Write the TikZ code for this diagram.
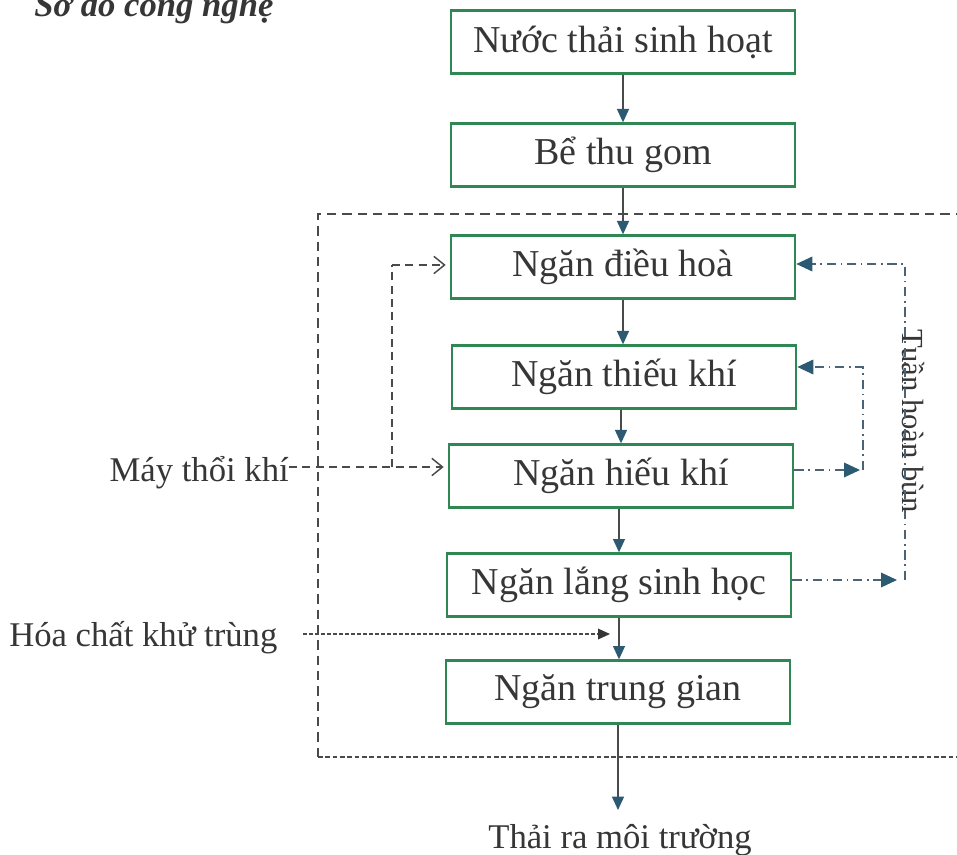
\documentclass[tikz,border=0pt]{standalone}
\usepackage{fontspec}
\setmainfont{Liberation Serif}
\usetikzlibrary{arrows.meta}

\definecolor{boxgreen}{HTML}{2F8754}
\definecolor{inkgray}{HTML}{363636}
\definecolor{linegray}{HTML}{4A4A4A}
\definecolor{arrowblue}{HTML}{2C5A72}
\definecolor{recblue}{HTML}{4A6476}

\begin{document}
\begin{tikzpicture}[x=0.75pt,y=-0.75pt,
  stagebox/.style={draw=boxgreen,line width=2pt,minimum width=258pt,minimum height=47pt,
    inner sep=0pt,text=inkgray,font=\fontsize{28.5}{32}\selectfont},
  sidelabel/.style={text=inkgray,inner sep=0pt,font=\fontsize{26}{30}\selectfont},
  flow/.style={draw=linegray,line width=1pt,-{Triangle[length=10pt,width=9pt,color=arrowblue]}},
  frametop/.style={draw=linegray,line width=1.1pt,dash pattern=on 7pt off 4.5pt},
  framebottom/.style={draw=linegray,line width=1.1pt,dash pattern=on 3.5pt off 2pt},
  airline/.style={draw=linegray,line width=1pt,dash pattern=on 6pt off 4pt,
    -{Straight Barb[length=8pt,width=13pt,line width=1.1pt]}},
  airbranch/.style={draw=linegray,line width=1pt,dash pattern=on 6pt off 4pt},
  chemline/.style={draw=linegray,line width=1pt,dash pattern=on 3pt off 1.5pt,
    -{Triangle[length=9pt,width=8pt,color=inkgray]}},
  recyc/.style={draw=recblue,line width=1pt,dash pattern=on 7pt off 3.5pt on 1.2pt off 3.5pt},
  recyctip/.style={recyc,-{Triangle[length=12pt,width=11pt,color=arrowblue]}}
]
\useasboundingbox (0,0) rectangle (957,855);
\clip (0,0) rectangle (957,855);

% title, partly above the page edge
\node[anchor=base west,inner sep=0pt,text=inkgray,
  font=\fontsize{26}{30}\selectfont\bfseries\itshape] (title) at (34,17) {Sơ đồ công nghệ};

% treatment stages
\node[stagebox] (b1) at (623,42)  {Nước thải sinh hoạt};
\node[stagebox] (b2) at (623,155) {Bể thu gom};
\node[stagebox] (b3) at (623,267) {Ngăn điều hoà};
\node[stagebox] (b4) at (624,377) {Ngăn thiếu khí};
\node[stagebox] (b5) at (621,476) {Ngăn hiếu khí};
\node[stagebox] (b6) at (619,585) {Ngăn lắng sinh học};
\node[stagebox] (b7) at (618,692) {Ngăn trung gian};

% side inputs and outlet
\node[sidelabel,anchor=base east] (air) at (289,482) {Máy thổi khí};
\node[sidelabel,anchor=base west] (chem) at (9,646) {Hóa chất khử trùng};
\node[sidelabel,anchor=base] (out) at (620,848) {Thải ra môi trường};
\node[sidelabel,rotate=-90,anchor=base,font=\fontsize{23}{26}\selectfont] (sludge) at (902,421) {Tuần hoàn bùn};

% dashed boundary of the treatment unit
\coordinate (fr1) at (965,214);
\coordinate (fr2) at (318,214);
\coordinate (fr3) at (318,757);
\coordinate (fr4) at (965,757);
\draw[frametop] (fr1) -- (fr2) -- (fr3);
\draw[framebottom] (fr3) -- (fr4);

% main flow
\draw[flow] (b1.south) -- (b2.north);
\draw[flow] (b2.south) -- (b3.north);
\draw[flow] (b3.south) -- (b3.south |- b4.north);
\draw[flow] (b5.north |- b4.south) -- (b5.north);
\draw[flow] (b6.north |- b5.south) -- (b6.north);
\draw[flow] (b6.south) -- (b6.south |- b7.north);
\coordinate (outtip) at (618,810);
\draw[flow] (b7.south) -- (outtip);

% air supply
\coordinate (airjoin) at (392,467);
\draw[airline,shorten >=3pt] (air.east |- airjoin) -- (b5.west |- airjoin);
\draw[airbranch] (airjoin) -- (airjoin |- 0,265);
\draw[airline,shorten >=3pt] (airjoin |- 0,265) -- (b3.west |- 0,265);

% disinfectant dosing
\coordinate (chemstart) at (303,634);
\coordinate (dose) at (610,634);
\draw[chemline] (chemstart) -- (dose);

% sludge recirculation
\coordinate (r1) at (863,367);
\coordinate (r2) at (863,470);
\coordinate (r2tip) at (860,470);
\coordinate (r3) at (905,264);
\coordinate (r4) at (905,580);
\coordinate (r4tip) at (897,580);
\draw[recyctip] (b5.east |- r2) -- (r2tip);
\draw[recyctip] (r2) -- (r1) -- (b4.east |- r1);
\draw[recyctip] (b6.east |- r4) -- (r4tip);
\draw[recyctip] (r4) -- (r3) -- (b3.east |- r3);
\end{tikzpicture}
\end{document}
